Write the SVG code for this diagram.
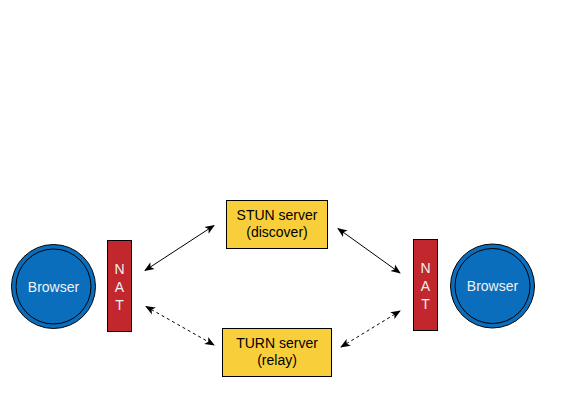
<svg xmlns="http://www.w3.org/2000/svg" width="582" height="409" viewBox="0 0 582 409">
<style>
.browser{fill:#0b6ebd;stroke:#000;stroke-width:1}
.nat{fill:#c1272d;stroke:#000;stroke-width:1}
.srv{fill:#f8cf3b;stroke:#000;stroke-width:1}
.wt{font-family:"Liberation Sans",Arial,sans-serif;font-size:14px;fill:#f0f0f0;text-anchor:middle}
.bt{font-family:"Liberation Sans",Arial,sans-serif;font-size:14px;fill:#000;text-anchor:middle}
.conn{stroke:#000;stroke-width:1;fill:none;marker-start:url(#ah);marker-end:url(#ah)}
.dash{stroke-dasharray:3 3}
</style>
<defs>
<marker id="ah" viewBox="0 0 10 10" refX="9" refY="5" markerWidth="10" markerHeight="10" markerUnits="userSpaceOnUse" orient="auto-start-reverse">
<path d="M0,1 L10,5 L0,9 L2.5,5 Z" fill="#000"/>
</marker>
</defs>
<rect width="582" height="409" fill="#fff"/>
<g id="connectors">
<line class="conn" x1="145" y1="270.5" x2="214" y2="225.5"/>
<line class="conn" x1="338" y1="228.5" x2="400" y2="273"/>
<line class="conn dash" x1="146" y1="306.5" x2="214" y2="345"/>
<line class="conn dash" x1="400" y1="311" x2="341" y2="347"/>
</g>
<g id="browser-left">
<circle class="browser" cx="53.5" cy="286.5" r="42"/>
<circle class="browser" cx="53.5" cy="286.5" r="37.5"/>
<text class="wt" x="53.5" y="291.5">Browser</text>
</g>
<g id="nat-left">
<rect class="nat" x="107.5" y="240.5" width="24" height="91"/>
<text class="wt" x="119.5" y="274">N</text>
<text class="wt" x="119.5" y="292">A</text>
<text class="wt" x="119.5" y="310">T</text>
</g>
<g id="stun">
<rect class="srv" x="226.5" y="200.5" width="101" height="48"/>
<text class="bt" x="277" y="220">STUN server</text>
<text class="bt" x="277" y="237">(discover)</text>
</g>
<g id="turn">
<rect class="srv" x="222.5" y="328.5" width="109" height="48"/>
<text class="bt" x="277" y="348">TURN server</text>
<text class="bt" x="277" y="365">(relay)</text>
</g>
<g id="nat-right">
<rect class="nat" x="413.5" y="239.5" width="24" height="91"/>
<text class="wt" x="425.5" y="273">N</text>
<text class="wt" x="425.5" y="291">A</text>
<text class="wt" x="425.5" y="309">T</text>
</g>
<g id="browser-right">
<circle class="browser" cx="492.5" cy="286" r="42"/>
<circle class="browser" cx="492.5" cy="286" r="37.5"/>
<text class="wt" x="492.5" y="291">Browser</text>
</g>
</svg>
